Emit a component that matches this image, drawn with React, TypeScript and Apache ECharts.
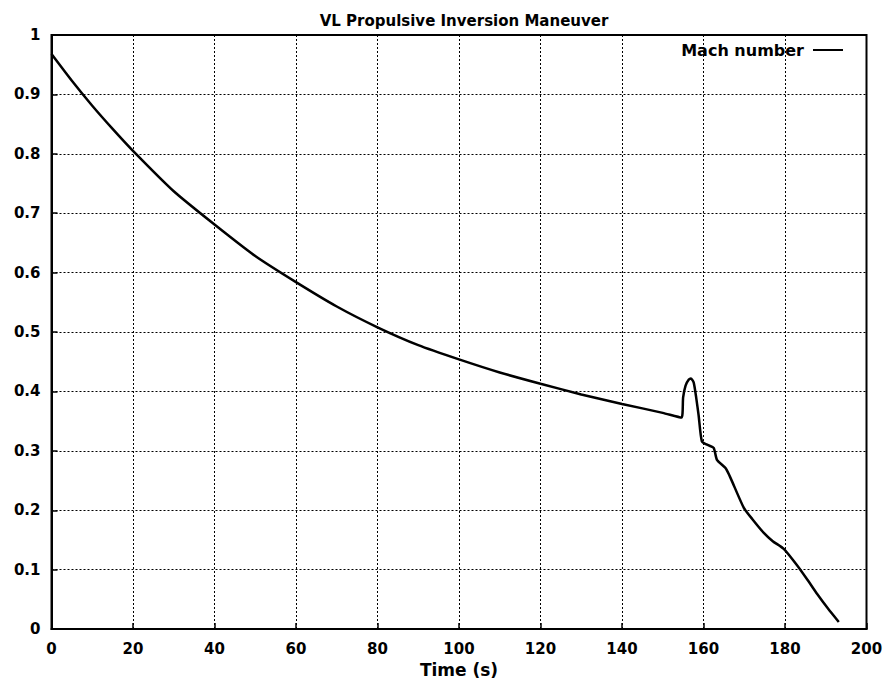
import React, { useEffect, useRef } from "react";
import * as echarts from "echarts";

const titleText = "VL Propulsive Inversion Maneuver";
const seriesName = "Mach number";
const xAxisName = "Time (s)";

const times = [
  0, 5, 10, 15, 20, 30, 40, 50, 60, 70, 80, 90, 100, 110, 120, 130, 140, 150,
  154.6, 155.0, 155.6, 156.4, 156.9, 157.6, 158.2, 158.8, 159.6, 161, 162.5, 163.3, 165.4,
  166.6, 169.9, 172, 174.8, 177, 179.7, 183, 185.5, 187.9, 190.5, 193.2,
];
const mach = [
  0.968, 0.923, 0.881, 0.842, 0.805, 0.737, 0.681, 0.628, 0.584, 0.543, 0.508, 0.478, 0.454,
  0.432, 0.413, 0.395, 0.379, 0.364,
  0.356, 0.39, 0.41, 0.42, 0.422, 0.415, 0.39, 0.36, 0.316, 0.31, 0.305, 0.285, 0.271,
  0.255, 0.204, 0.185, 0.162, 0.148, 0.135, 0.107, 0.083, 0.059, 0.035, 0.012,
];

const xMin = 0;
const xMax = 200;
const xStep = 20;
const yMin = 0;
const yMax = 1;
const yStep = 0.1;

export default function App() {
  const ref = useRef<HTMLDivElement>(null);
  useEffect(() => {
    if (!ref.current) return;
    const chart = echarts.init(ref.current, undefined, { renderer: "svg" });
    const font = "'DejaVu Sans', Arial, Helvetica, sans-serif";
    const data = times.map((t, i) => [t, mach[i]]);
    chart.setOption({
      animation: false,
      backgroundColor: "#ffffff",
      textStyle: { fontFamily: font, color: "#000" },
      title: {
        text: titleText,
        left: 459,
        textAlign: "center",
        top: 8,
        textStyle: { fontFamily: font, fontSize: 15, fontWeight: "bold", color: "#000" },
      },
      legend: {
        data: [{ name: seriesName, icon: "rect" }],
        right: 40,
        top: 37,
        align: "right",
        itemWidth: 30,
        itemHeight: 2,
        itemGap: 8,
        textStyle: { fontFamily: font, fontSize: 16, fontWeight: "bold", color: "#000", padding: [0, 4, 0, 0] },
      },
      grid: {
        left: 51.5,
        right: 21.5,
        top: 35,
        bottom: 51,
        show: true,
        borderColor: "#000",
        borderWidth: 2,
        backgroundColor: "transparent",
      },
      xAxis: {
        type: "value",
        min: xMin,
        max: xMax,
        interval: xStep,
        name: xAxisName,
        nameLocation: "middle",
        nameGap: 29,
        nameTextStyle: { fontFamily: font, fontSize: 17, fontWeight: "bold", color: "#000" },
        axisLine: { show: true, onZero: false, lineStyle: { color: "#000", width: 2 } },
        axisTick: { show: true, inside: true, length: 6, lineStyle: { color: "#000", width: 1.5 } },
        axisLabel: { margin: 12, fontFamily: font, fontSize: 15, fontWeight: "bold", color: "#000" },
        splitLine: { show: true, lineStyle: { color: "#000", width: 1, type: [2, 2] } },
      },
      yAxis: {
        type: "value",
        min: yMin,
        max: yMax,
        interval: yStep,
        axisLine: { show: true, onZero: false, lineStyle: { color: "#000", width: 2 } },
        axisTick: { show: true, inside: true, length: 6, lineStyle: { color: "#000", width: 1.5 } },
        axisLabel: {
          margin: 11,
          fontFamily: font,
          fontSize: 15,
          fontWeight: "bold",
          color: "#000",
          formatter: (v: number) => String(Math.round(v * 10) / 10),
        },
        splitLine: { show: true, lineStyle: { color: "#000", width: 1, type: [2, 2] } },
      },
      series: [
        {
          name: seriesName,
          type: "line",
          data,
          showSymbol: false,
          symbol: "none",
          smooth: 0.2,
          lineStyle: { color: "#000", width: 2.5 },
          itemStyle: { color: "#000" },
        },
      ],
    });
    return () => chart.dispose();
  }, []);
  return (
    <div
      ref={ref}
      style={{ position: "fixed", left: 0, top: 0, width: 888, height: 683, background: "#fff" }}
    />
  );
}
